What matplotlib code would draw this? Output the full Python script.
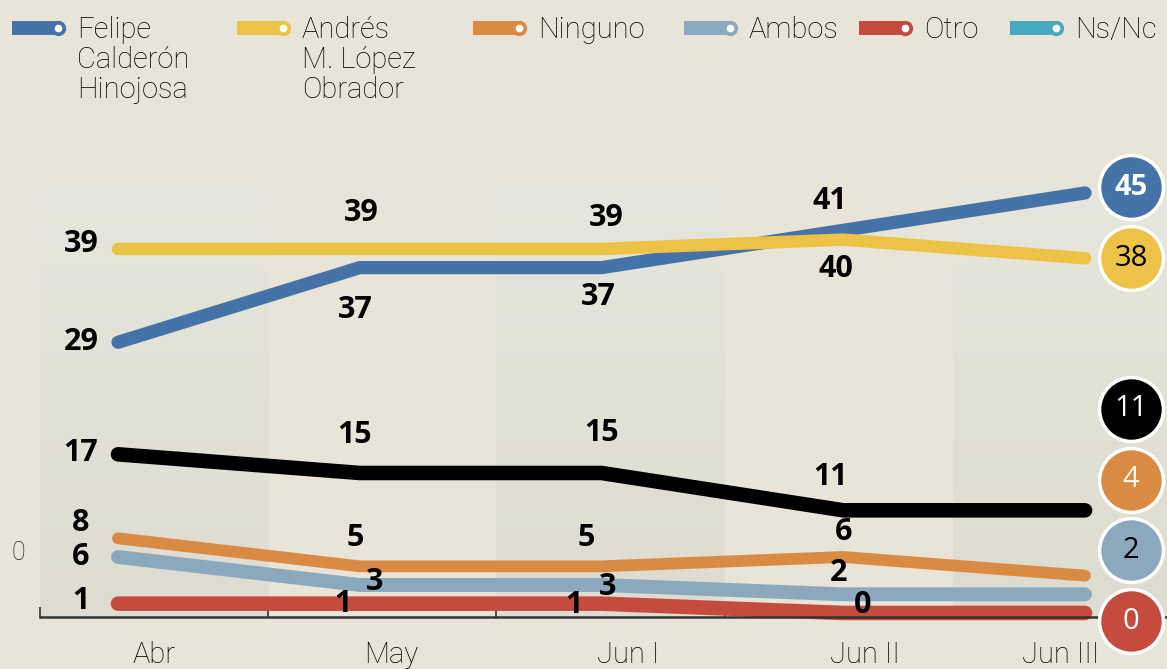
import numpy as np
import matplotlib.pyplot as plt
from matplotlib.colors import LinearSegmentedColormap
from matplotlib.transforms import ScaledTranslation

# data
periods = ["Abr", "May", "Jun I", "Jun II", "Jun III"]
felipe = [29, 37, 37, 41, 45]
andres = [39, 39, 39, 40, 38]
ninguno = [8, 5, 5, 6, 4]
ambos = [6, 3, 3, 2, 2]
otro = [1, 1, 1, 0, 0]
nsnc = [17, 15, 15, 11, 11]

legend_names = ["Felipe\nCalderón\nHinojosa", "Andrés\nM. López\nObrador",
                "Ninguno", "Ambos", "Otro", "Ns/Nc"]
legend_colors = ["#4572a7", "#ecc346", "#d98b43", "#8ba8bd", "#c64b3f", "#48a9be"]

BG = "#e8e5d8"
PX = 0.72  # points per pixel at dpi 100
LIGHT = ["Roboto", "DejaVu Sans"]

# series as drawn: values, line colour, width, label offsets in px (dx, dy down)
series = [
    (felipe, "#4572a7", 9.5, [(-37, 0), (-4, 42), (-3, 29), (-13, -29)]),
    (andres, "#ecc346", 9.0, [(-37, -5), (1, -36), (5, -31), (-7, 29)]),
    (nsnc, "#000000", 10.5, [(-37, -1), (-5, -38), (0, -40), (-13, -33)]),
    (ninguno, "#d98b43", 8.5, [(-37, -15), (-5, -28), (-15, -28), (0, -25)]),
    (ambos, "#8ba8bd", 10.0, [(-37, 0), (15, -3), (6, 2), (-5, -21)]),
    (otro, "#c64b3f", 10.5, [(-37, -3), (-17, 0), (-28, 1), (19, -8)]),
]
end_text = {"#4572a7": ("white", "bold"), "#ecc346": ("black", "normal"),
            "#000000": ("white", "normal"), "#d98b43": ("white", "normal"),
            "#8ba8bd": ("black", "normal"), "#c64b3f": ("white", "normal")}

plt.rcParams["font.family"] = ["Open Sans", "DejaVu Sans"]

fig = plt.figure(figsize=(11.67, 6.69), dpi=100, facecolor=BG)
ax = fig.add_axes([40 / 1167, 52 / 669, 1127 / 1167, 447 / 669])
ax.set_facecolor(BG)

x = np.arange(len(periods))
xmin, xmax = -0.3226, 4.339
ymin, ymax = -0.43, 47.46

# shaded columns with a soft vertical gradient
band_w = 0.944
cmap = LinearSegmentedColormap.from_list("band", ["#dedcd0", "#e6e6dc"])
grad = np.linspace(0, 1, 100).reshape(-1, 1)
for k in range(0, 5, 2):
    x0 = xmin + k * band_w
    ax.imshow(grad, extent=[x0, x0 + band_w, ymin, 46.5], origin="lower",
              cmap=cmap, aspect="auto", zorder=0)

for vals, col, lw, offs in series:
    ax.plot(x, vals, color=col, lw=lw, solid_capstyle="round",
            solid_joinstyle="round", zorder=3, clip_on=False)
    for xi, v, (dx, dy) in zip(x, vals, offs):
        ax.annotate(str(v), (xi, v), xytext=(dx * PX, -dy * PX),
                    textcoords="offset points", ha="center", va="center",
                    fontsize=22, fontweight="bold", color="black", zorder=5)

# end-value bubbles, spread apart so they don't overlap
last = sorted([(s[0][-1], s[1]) for s in series])
gap = 7.6
pos = []
for i, (v, c) in enumerate(last):
    p = v - 0.9 if i == 0 else max(v, pos[-1] + gap)
    pos.append(p)
for (v, c), p in zip(last, pos):
    ax.scatter([4.19], [p], s=46 ** 2, color=c, edgecolor="white",
               linewidth=2.5, zorder=6, clip_on=False)
    tc, tw = end_text[c]
    ax.text(4.19, p, str(v), ha="center", va="center", fontsize=21,
            color=tc, fontweight=tw, zorder=7)

ax.set_xlim(xmin, xmax)
ax.set_ylim(ymin, ymax)
for s in ["top", "right", "left"]:
    ax.spines[s].set_visible(False)
ax.spines["bottom"].set_color("#333333")
ax.spines["bottom"].set_linewidth(1.8)
ax.spines["bottom"].set_zorder(4)
ax.set_yticks([])
ax.set_xticks([xmin + k * band_w for k in range(5)])
ax.set_xticklabels([])
ax.tick_params(axis="x", which="major", direction="in", length=7,
               width=1.2, color="#333333")
ax.set_xticks(x, minor=True)
ax.set_xticklabels(periods, minor=True, family=LIGHT, fontweight="light")
ax.tick_params(axis="x", which="minor", length=0, pad=17, labelsize=21,
               labelcolor="black")
# category labels sit a little off their points in the original
for lab, dx in zip(ax.get_xticklabels(minor=True), [36, 31, 27, 22, -24]):
    lab.set_transform(lab.get_transform() +
                      ScaledTranslation(dx / 100, 0, fig.dpi_scale_trans))

fig.text(18 / 1167, 1 - 553 / 669, "0", fontsize=18, color="#222222",
         ha="center", va="center", family=LIGHT, fontweight="light")

# legend drawn along the top
lax = fig.add_axes([0, 1 - 110 / 669, 1, 110 / 669])
lax.set_xlim(0, 1167)
lax.set_ylim(110, 0)
lax.axis("off")
bar_x = [12, 237, 473, 684, 859, 1010]
for bx, name, col in zip(bar_x, legend_names, legend_colors):
    lax.plot([bx, bx + 46], [28, 28], color=col, lw=10, solid_capstyle="butt")
    lax.scatter([bx + 46], [28], s=10 ** 2, color=col, zorder=3)
    lax.scatter([bx + 46], [28], s=4.5 ** 2, color="white", zorder=4)
    lax.text(bx + 65, 16, name, ha="left", va="top", fontsize=21,
             linespacing=1.1, color="black", family=LIGHT, fontweight="light")

fig.savefig("out.png", dpi=100, facecolor=BG)
